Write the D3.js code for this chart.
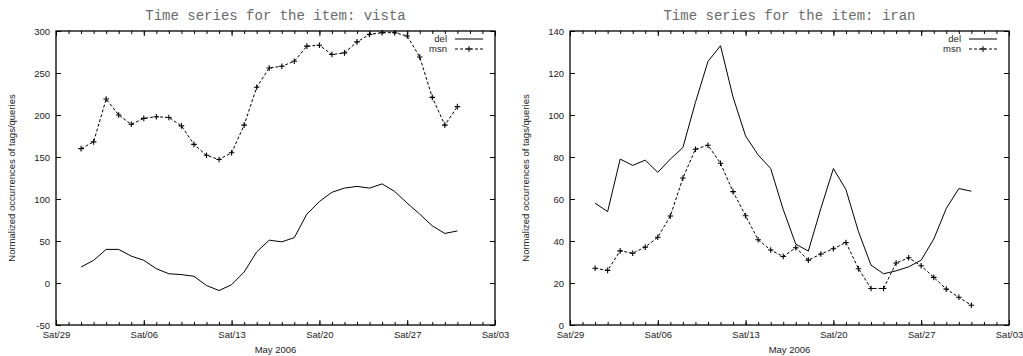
<!DOCTYPE html>
<html lang="en">
<head>
  <meta charset="UTF-8">
  <title>Time series</title>
  <style>
    body {
      margin: 0;
      padding: 0;
      background: #fff;
    }
    svg text {
      font-family: "Liberation Sans", Arial, sans-serif;
      fill: #222;
    }
    .title {
      font-family: "Liberation Mono", "Courier New", monospace !important;
      font-size: 14px;
      fill: #6a6a6a !important;
    }
    .tick line {
      stroke: #000;
    }
  </style>
</head>
<body>
  <script src="https://d3js.org/d3.v7.min.js"></script>
  <script>
    // days of May 2006, one point per day
    const days = ['2006-05-01', '2006-05-02', '2006-05-03', '2006-05-04', '2006-05-05', '2006-05-06',
      '2006-05-07', '2006-05-08', '2006-05-09', '2006-05-10', '2006-05-11', '2006-05-12',
      '2006-05-13', '2006-05-14', '2006-05-15', '2006-05-16', '2006-05-17', '2006-05-18',
      '2006-05-19', '2006-05-20', '2006-05-21', '2006-05-22', '2006-05-23', '2006-05-24',
      '2006-05-25', '2006-05-26', '2006-05-27', '2006-05-28', '2006-05-29', '2006-05-30',
      '2006-05-31'];

    const xTicks = ['2006-04-29', '2006-05-06', '2006-05-13', '2006-05-20', '2006-05-27', '2006-06-03'];
    const xDomain = ['2006-04-29', '2006-06-03'];

    const vistaDel = [19, 27, 40, 40, 32, 27, 17, 11, 10, 8, -3, -9, -2, 13, 37, 51, 49, 54,
      82, 97, 108, 113, 115, 113, 118, 109, 95, 82, 68, 59, 62];
    const vistaMsn = [160, 168, 219, 200, 189, 196, 198, 197, 187, 165, 152, 147, 155, 188, 233, 256,
      258, 264, 282, 283, 272, 274, 287, 296, 298, 298, 294, 269, 221, 188, 210];

    const iranDel = [58, 54, 79, 76, 78.5, 72.7, 79, 84.5, 106, 125.5, 133, 108.5, 90, 81, 74.5, 55,
      38.5, 35.2, 55.5, 74.5, 64.5, 44.4, 28.5, 24.4, 25.8, 27.7, 30.9, 40.9, 55.5, 65, 63.7];
    const iranMsn = [27, 26, 35.3, 34.2, 37.1, 41.8, 51.9, 70, 83.7, 85.6, 77, 63.5, 52, 40.6, 35.7,
      32.6, 36.8, 30.9, 33.8, 36.3, 39.3, 26.8, 17.4, 17.4, 29.5, 32, 28.2, 22.7, 17.1, 13.2, 9.4];

    const vistaYTicks = [-50, 0, 50, 100, 150, 200, 250, 300];
    const iranYTicks = [0, 20, 40, 60, 80, 100, 120, 140];

    const seriesNames = ['del', 'msn'];

    const width = 1023;
    const height = 356;
    const parse = d3.utcParse('%Y-%m-%d');

    const svg = d3.select('body')
      .append('svg')
      .attr('width', width)
      .attr('height', height);

    function plus(cx, cy, s) {
      return `M${cx - s},${cy}H${cx + s}M${cx},${cy - s}V${cy + s}`;
    }

    function drawPanel(opts) {
      const left = opts.left, right = opts.right;
      const top = 31, bottom = 325;

      const x = d3.scaleUtc()
        .domain(xDomain.map(parse))
        .range([left, right]);
      const y = d3.scaleLinear()
        .domain(opts.yDomain)
        .range([bottom, top]);

      const g = svg.append('g');

      // minor day ticks, bottom and top
      g.append('g')
        .attr('transform', `translate(0,${bottom})`)
        .call(d3.axisBottom(x).ticks(d3.utcDay.every(1)).tickSize(-3).tickFormat(''))
        .call(a => a.select('.domain').remove());
      g.append('g')
        .attr('transform', `translate(0,${top})`)
        .call(d3.axisTop(x).ticks(d3.utcDay.every(1)).tickSize(-3).tickFormat(''))
        .call(a => a.select('.domain').remove());

      // major ticks with labels
      g.append('g')
        .attr('transform', `translate(0,${bottom})`)
        .call(d3.axisBottom(x).tickValues(xTicks.map(parse)).tickSize(-5).tickPadding(6)
          .tickFormat(d3.utcFormat('%a/%d')))
        .call(a => a.select('.domain').remove())
        .call(a => a.selectAll('text').style('font-size', '9.5px'));
      g.append('g')
        .attr('transform', `translate(0,${top})`)
        .call(d3.axisTop(x).tickValues(xTicks.map(parse)).tickSize(-5).tickFormat(''))
        .call(a => a.select('.domain').remove());

      g.append('g')
        .attr('transform', `translate(${left},0)`)
        .call(d3.axisLeft(y).tickValues(opts.yTicks).tickSize(-5).tickPadding(6)
          .tickFormat(d => String(d)))
        .call(a => a.select('.domain').remove())
        .call(a => a.selectAll('text').style('font-size', '9.5px'));
      g.append('g')
        .attr('transform', `translate(${right},0)`)
        .call(d3.axisRight(y).tickValues(opts.yTicks).tickSize(-5).tickFormat(''))
        .call(a => a.select('.domain').remove());

      // frame
      g.append('rect')
        .attr('x', left)
        .attr('y', top)
        .attr('width', right - left)
        .attr('height', bottom - top)
        .attr('fill', 'none')
        .attr('stroke', '#000')
        .attr('stroke-width', 1.3);

      const dates = days.map(parse);
      const line = d3.line()
        .x((d, i) => x(dates[i]))
        .y(d => y(d));

      g.append('path')
        .datum(opts.del)
        .attr('fill', 'none')
        .attr('stroke', '#000')
        .attr('stroke-width', 1)
        .attr('d', line);

      g.append('path')
        .datum(opts.msn)
        .attr('fill', 'none')
        .attr('stroke', '#000')
        .attr('stroke-width', 1)
        .attr('stroke-dasharray', '3,2')
        .attr('d', line);

      g.append('g')
        .selectAll('path')
        .data(opts.msn)
        .enter().append('path')
          .attr('d', (d, i) => plus(x(dates[i]), y(d), 2.8))
          .attr('stroke', '#000')
          .attr('stroke-width', 1.1);

      // title
      g.append('text')
        .attr('class', 'title')
        .attr('x', (left + right) / 2)
        .attr('y', 20)
        .attr('text-anchor', 'middle')
        .text(opts.title);

      // axis labels
      g.append('text')
        .attr('x', (left + right) / 2)
        .attr('y', 353)
        .attr('text-anchor', 'middle')
        .style('font-size', '9.5px')
        .text('May 2006');

      g.append('text')
        .attr('transform', `translate(${left - 41},${(top + bottom) / 2}) rotate(-90)`)
        .attr('text-anchor', 'middle')
        .style('font-size', '9.5px')
        .text('Normalized occurrences of tags/queries');

      // legend
      const legend = g.append('g');
      seriesNames.forEach((name, i) => {
        const ly = 39 + i * 10;
        legend.append('text')
          .attr('x', right - 48)
          .attr('y', ly)
          .attr('dy', '0.35em')
          .attr('text-anchor', 'end')
          .style('font-size', '9.5px')
          .text(name);
        legend.append('line')
          .attr('x1', right - 40)
          .attr('x2', right - 12)
          .attr('y1', ly)
          .attr('y2', ly)
          .attr('stroke', '#000')
          .attr('stroke-dasharray', i === 0 ? null : '3,2');
        if (i === 1) {
          legend.append('path')
            .attr('d', plus(right - 26, ly, 2.8))
            .attr('stroke', '#000')
            .attr('stroke-width', 1.1);
        }
      });
    }

    drawPanel({
      left: 56, right: 495,
      yDomain: [-50, 300], yTicks: vistaYTicks,
      del: vistaDel, msn: vistaMsn,
      title: 'Time series for the item: vista'
    });

    drawPanel({
      left: 570, right: 1009,
      yDomain: [0, 140], yTicks: iranYTicks,
      del: iranDel, msn: iranMsn,
      title: 'Time series for the item: iran'
    });
  </script>
</body>
</html>
